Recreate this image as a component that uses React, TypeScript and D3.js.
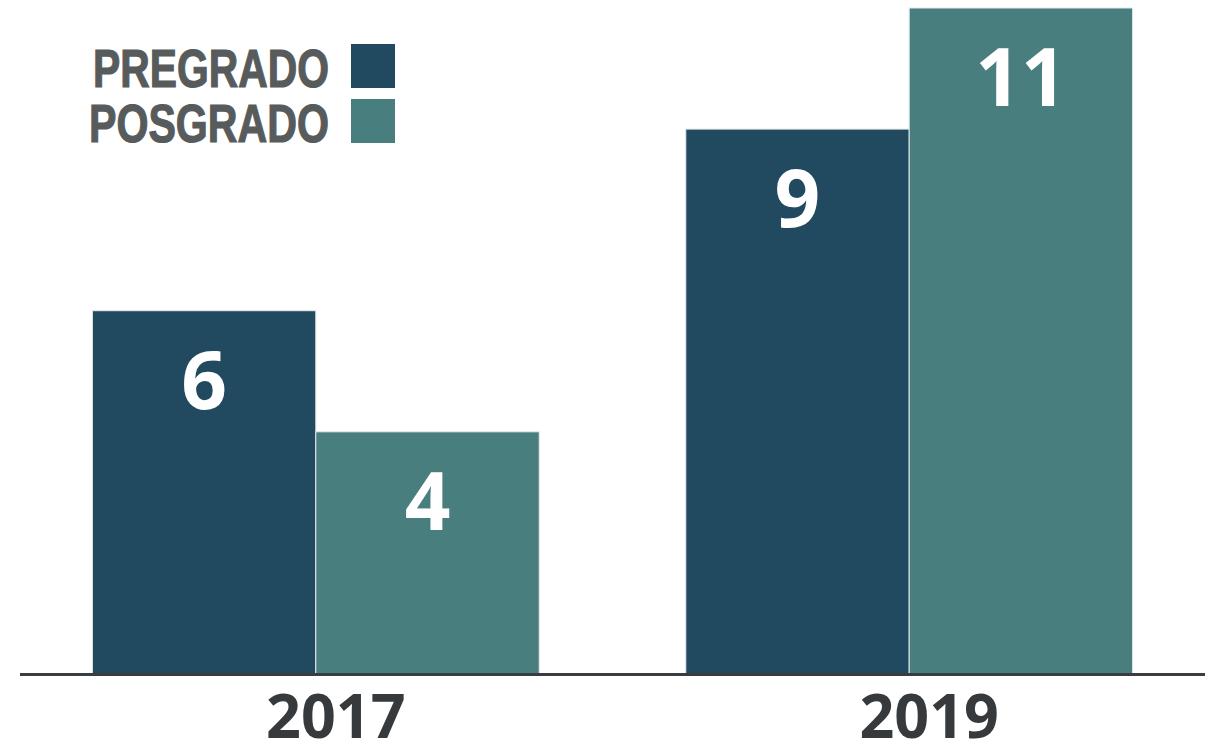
import { useEffect, useRef } from "react"
import * as d3 from "d3"

const years = ["2017", "2019"]
const series = ["PREGRADO", "POSGRADO"]
const pregrado = [6, 9]
const posgrado = [4, 11]
const colors = ["#214960", "#487f7e"]

export default function App() {
  const svgRef = useRef<SVGSVGElement>(null)

  useEffect(() => {
    if (!svgRef.current) return
    const svg = d3.select(svgRef.current)
    svg.selectAll("*").remove()

    const baseline = 674
    const values = [pregrado, posgrado]

    const x0 = d3.scaleBand().domain(years).range([20, 1205]).paddingInner(0.247).paddingOuter(0.122)
    const x1 = d3.scaleBand().domain(series).range([0, x0.bandwidth()])
    const y = d3.scaleLinear().domain([0, 11]).range([baseline, 8])

    const rows = years.flatMap((yr, i) => series.map((s, j) => ({ yr, s, j, v: values[j][i] })))

    // bars
    svg.append("g")
      .selectAll("rect")
      .data(rows)
      .enter()
      .append("rect")
      .attr("x", (d) => (x0(d.yr) || 0) + (x1(d.s) || 0))
      .attr("y", (d) => y(d.v))
      .attr("width", x1.bandwidth())
      .attr("height", (d) => baseline - y(d.v))
      .attr("fill", (d) => colors[d.j])
      .attr("stroke", "#e4e8ea")
      .attr("stroke-width", 1)

    // value labels
    svg.append("g")
      .selectAll("text")
      .data(rows)
      .enter()
      .append("text")
      .attr("x", (d) => (x0(d.yr) || 0) + (x1(d.s) || 0) + x1.bandwidth() / 2)
      .attr("y", (d) => y(d.v) + 98)
      .attr("text-anchor", "middle")
      .style("font-family", "'Open Sans', sans-serif")
      .style("font-weight", "bold")
      .style("font-size", "80px")
      .style("fill", "#ffffff")
      .text((d) => d.v)

    // axis line
    svg.append("line")
      .attr("x1", 20)
      .attr("x2", 1205)
      .attr("y1", baseline + 0.5)
      .attr("y2", baseline + 0.5)
      .attr("stroke", "#3a3d40")
      .attr("stroke-width", 3)

    // year labels (sit a little right of the group centre, as in the source)
    svg.append("g")
      .selectAll("text")
      .data(years)
      .enter()
      .append("text")
      .attr("x", (d) => (x0(d) || 0) + x0.bandwidth() / 2 + 20)
      .attr("y", 738)
      .attr("text-anchor", "middle")
      .style("font-family", "'Open Sans', sans-serif")
      .style("font-weight", "bold")
      .style("font-size", "61px")
      .style("fill", "#363a3d")
      .text((d) => d)

    // legend
    const legend = svg.append("g")
    series.forEach((s, i) => {
      const row = legend.append("g").attr("transform", `translate(0, ${44 + i * 55})`)
      row.append("rect").attr("x", 351).attr("width", 44).attr("height", 44).attr("fill", colors[i])
      row.append("text")
        .attr("x", 329)
        .attr("y", 43)
        .attr("text-anchor", "end")
        .attr("textLength", i === 0 ? 236 : 240)
        .attr("lengthAdjust", "spacingAndGlyphs")
        .style("font-family", "'Liberation Sans Narrow', 'Liberation Sans', sans-serif")
        .style("font-weight", "bold")
        .style("font-size", "54px")
        .style("fill", "#575b5c")
        .style("stroke", "#575b5c")
        .style("stroke-width", 1.2)
        .text(s)
    })
  }, [])

  return (
    <div style={{ position: "absolute", left: 0, top: 0 }}>
      <svg ref={svgRef} width={1217} height={745} />
    </div>
  )
}
